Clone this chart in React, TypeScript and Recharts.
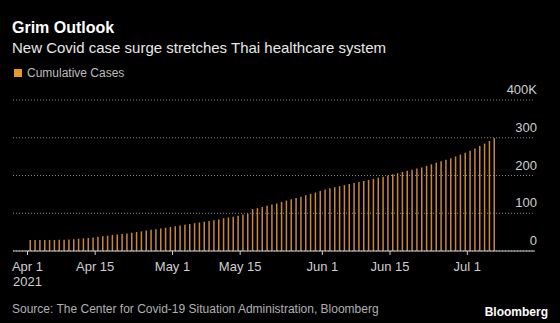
import React from 'react';
import { BarChart, Bar, XAxis, YAxis, CartesianGrid } from 'recharts';

// cumulative confirmed cases, one bar per day, Apr 1 – Jul 6 2021
const cumulativeCases = [
  28900, 28900, 29000, 29100, 29100, 29300, 29600, 29900, 30300, 31000,
  32600, 33600, 34600, 35900, 37500, 39000, 40600, 42400, 43700, 45200,
  46600, 48100, 50200, 52000, 54100, 56000, 57500, 59700, 61700, 63700,
  65600, 67500, 69500, 71500, 73500, 75500, 77500, 79600, 81300, 83400,
  86900, 88900, 91000, 93500, 96500, 99000, 111100, 113600, 116400, 119600,
  123100, 126100, 130000, 133500, 137000, 140500, 144000, 148000, 151500, 155000,
  159000, 163000, 166000, 169000, 171800, 174500, 177400, 180000, 182800, 185500,
  188000, 191000, 194000, 197000, 200000, 203000, 206000, 209500, 212500, 215500,
  218500, 221500, 225500, 229500, 233500, 237500, 241500, 245500, 250500, 255500,
  260500, 265500, 271500, 278000, 284500, 291500, 299000,
];

// x ticks, in days after Apr 1
const tickDays = [0, 14, 30, 44, 61, 75, 91];
const tickLabels = ['Apr 1', 'Apr 15', 'May 1', 'May 15', 'Jun 1', 'Jun 15', 'Jul 1'];
const yTicks = [0, 100000, 200000, 300000, 400000];
const yLabels = ['0', '100', '200', '300', '400K'];

const chartData = cumulativeCases.map((v, i) => ({ day: i + 0.5, cases: v }));

const FONT = '"Liberation Sans", Arial, sans-serif';
const BAR = '#e8982f';

const XTick = (props: any) => {
  const { x, y, payload } = props;
  const idx = tickDays.indexOf(payload.value);
  return (
    <g>
      <text x={x} y={y + 14} textAnchor="middle" fill="#cfcfcf" fontSize={13} fontFamily={FONT}>
        {tickLabels[idx]}
      </text>
      {idx === 0 && (
        <text x={x} y={y + 29} textAnchor="middle" fill="#cfcfcf" fontSize={13} fontFamily={FONT}>
          2021
        </text>
      )}
    </g>
  );
};

const YTick = (props: any) => {
  const { x, y, payload } = props;
  const idx = yTicks.indexOf(payload.value);
  return (
    <text x={x + 2} y={y - 6} textAnchor="end" fill="#cfcfcf" fontSize={13} fontFamily={FONT}>
      {yLabels[idx]}
    </text>
  );
};

export default function App() {
  return (
    <div style={{ position: 'absolute', left: 0, top: 0, width: 560, height: 323, background: '#000', fontFamily: FONT, overflow: 'hidden' }}>
      <div style={{ position: 'absolute', left: 12, top: 20, fontSize: 16, lineHeight: '16px', fontWeight: 700, color: '#fff' }}>
        Grim Outlook
      </div>
      <div style={{ position: 'absolute', left: 12, top: 40, fontSize: 15, lineHeight: '15px', color: '#e8e8e8' }}>
        New Covid case surge stretches Thai healthcare system
      </div>
      <div style={{ position: 'absolute', left: 14, top: 69, width: 8, height: 8, background: BAR }} />
      <div style={{ position: 'absolute', left: 27, top: 67, fontSize: 12, lineHeight: '12px', color: '#bdbdbd' }}>
        Cumulative Cases
      </div>

      <div style={{ position: 'absolute', left: 0, top: 0 }}>
        <BarChart width={560} height={323} data={chartData} margin={{ top: 100, right: 0, bottom: 0, left: 13 }}>
          <CartesianGrid vertical={false} stroke="#8a8a8a" strokeDasharray="1 2" />
          <XAxis
            type="number"
            dataKey="day"
            domain={[-3, 105]}
            ticks={tickDays}
            interval={0}
            height={72}
            axisLine={{ stroke: '#d0d0d0' }}
            tickLine={{ stroke: '#d0d0d0' }}
            tickSize={4}
            tick={<XTick />}
          />
          <YAxis
            orientation="right"
            width={25}
            domain={[0, 400000]}
            ticks={yTicks}
            axisLine={false}
            tickLine={false}
            tickSize={0}
            tickMargin={0}
            tick={<YTick />}
          />
          <Bar dataKey="cases" fill="#c8873a" barSize={1.5} isAnimationActive={false} />
        </BarChart>
      </div>

      <div style={{ position: 'absolute', left: 12, top: 303, fontSize: 12, lineHeight: '12px', color: '#b0b0b0' }}>
        Source: The Center for Covid-19 Situation Administration, Bloomberg
      </div>
      <div style={{ position: 'absolute', right: 12, top: 306, fontSize: 12, lineHeight: '12px', fontWeight: 700, color: '#fff' }}>
        Bloomberg
      </div>
    </div>
  );
}
